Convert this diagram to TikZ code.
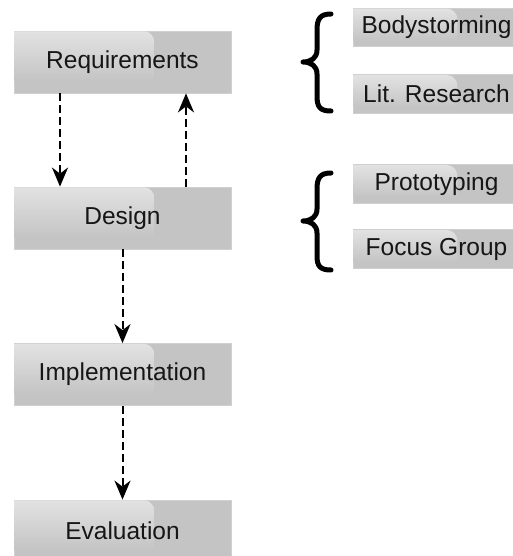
\documentclass[tikz,border=0pt]{standalone}
\usepackage{fontspec}
\setmainfont{Liberation Sans}
\usetikzlibrary{arrows.meta,calc}
\definecolor{boxfill}{HTML}{C4C4C4}
\definecolor{boxline}{HTML}{D0D0D0}
\definecolor{glosstop}{HTML}{E2E2E2}
\definecolor{txt}{HTML}{161616}
\tikzset{
  stagebox/.style={draw=boxline, line width=0.8pt, fill=boxfill, minimum width=217pt, minimum height=62pt, inner sep=0pt},
  methodbox/.style={draw=boxline, line width=0.8pt, fill=boxfill, minimum width=167pt, minimum height=38.5pt, inner sep=0pt},
  lbl/.style={font=\fontsize{24.5}{28}\selectfont, text=txt, inner sep=0pt},
  flow/.style={dash pattern=on 8pt off 4pt, line width=2pt, -{Stealth[length=19pt,width=16pt,inset=6pt]}},
  bracepath/.style={line width=5pt, line cap=round, line join=round}
}
\newcommand{\glossbox}[3]{%
  \shade[top color=glosstop, bottom color=boxfill]
    ([shift={(0.8pt,-0.8pt)}]#1.north west) -- ++(#2-10,0)
    .. controls ++(6,0) and ++(0,4) .. ++(10,-10) -- ++(0,-#3) -- ++(-#2,0) -- cycle;
}
\begin{document}
\begin{tikzpicture}[x=1pt,y=1pt]
\useasboundingbox (0,0) rectangle (513,-556);
\clip (0,0) rectangle (513,-556);
% stage boxes
\node[stagebox] (req) at (122.5,-62) {};
\node[stagebox] (des) at (122.5,-218) {};
\node[stagebox] (imp) at (122.5,-374.5) {};
\node[stagebox] (eva) at (122.5,-531) {};
\glossbox{req}{140}{40}
\glossbox{des}{140}{40}
\glossbox{imp}{140}{40}
\glossbox{eva}{140}{40}
\node[lbl] at (req) {Requirements};
\node[lbl] at (des) {Design};
\node[lbl] at (imp) {Implementation};
\node[lbl] at (eva) {Evaluation};
% method boxes
\node[methodbox] (bod) at (436.5,-27.5) {};
\node[methodbox] (lit) at (436.5,-94) {};
\node[methodbox] (pro) at (436.5,-184) {};
\node[methodbox] (foc) at (436.5,-249) {};
\glossbox{bod}{104}{22}
\glossbox{lit}{104}{22}
\glossbox{pro}{104}{22}
\glossbox{foc}{104}{22}
\node[lbl] at (bod) {Bodystorming};
\node[lbl] at (lit) {Lit. Research};
\node[lbl] at (pro) {Prototyping};
\node[lbl] at (foc) {Focus Group};
% arrows
\draw[flow] ([xshift=-62.5pt]req.south) -- ([xshift=-62.5pt]des.north);
\draw[flow] ([xshift=63.5pt]des.north) -- ([xshift=63.5pt]req.south);
\draw[flow] (des.south) -- (imp.north);
\draw[flow] (imp.south) -- (eva.north);
% braces
\draw[bracepath] (331,-14) .. controls (320,-14) and (317,-19) .. (317,-30) -- (317,-50)
  .. controls (317,-58) and (311,-62) .. (303,-62)
  .. controls (311,-62) and (317,-66) .. (317,-74) -- (317,-96)
  .. controls (317,-107) and (320,-111) .. (331,-111);
\draw[bracepath] (331,-173) .. controls (320,-173) and (317,-178) .. (317,-189) -- (317,-209)
  .. controls (317,-217) and (311,-221) .. (303,-221)
  .. controls (311,-221) and (317,-225) .. (317,-233) -- (317,-256)
  .. controls (317,-266) and (320,-270) .. (331,-270);
\end{tikzpicture}
\end{document}
